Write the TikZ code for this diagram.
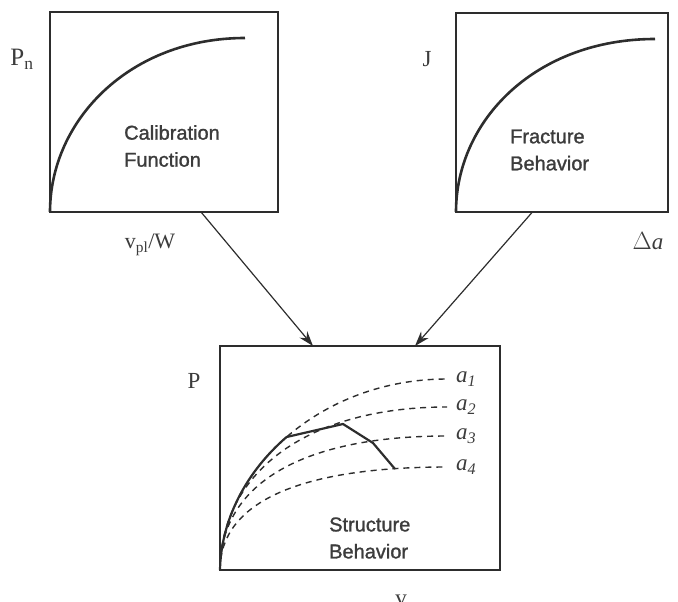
\documentclass[tikz,border=0pt]{standalone}
\usepackage{fontspec}
\setmainfont{Liberation Serif}
\newfontfamily\labsans[FakeBold=1.3]{Liberation Sans}
\usetikzlibrary{arrows.meta}
\definecolor{ink}{RGB}{45,45,45}
\definecolor{txt}{RGB}{60,60,60}
\tikzset{
  plotbox/.style={draw=ink, line width=1.3pt, inner sep=0pt, outer sep=0pt, rectangle},
  curve/.style={draw=ink, line width=2.6pt},
  dcurve/.style={draw=ink, line width=1.4pt, dash pattern=on 6pt off 5pt},
  arr/.style={draw=ink, line width=1.2pt, -{Stealth[length=15pt, width=10pt]}},
  title/.style={font=\labsans\fontsize{20}{27}\selectfont, text=txt, align=left, anchor=west, inner sep=0pt},
  axl/.style={font=\fontsize{23}{26}\selectfont, text=txt, inner sep=0pt},
}
\begin{document}
\begin{tikzpicture}[x=1pt, y=-1pt]
\useasboundingbox (0,0) rectangle (678,602);
% boxes
\node[plotbox, minimum width=228pt, minimum height=200pt] (cal) at (164,112) {};
\node[plotbox, minimum width=212pt, minimum height=199pt] (frac) at (562,112.5) {};
\node[plotbox, minimum width=280pt, minimum height=224pt] (str) at (360,458) {};
% curves in the upper boxes
\draw[curve] (cal.south west) .. controls (50,120) and (130,38) .. (245,38);
\draw[curve] (frac.south west) .. controls (456,120) and (536,39) .. (655,39);
% texts
\node[title] (caltxt) at (124,146) {Calibration\\Function};
\node[title] (fractxt) at (510,150) {Fracture\\Behavior};
\node[title] (strtxt) at (329,538) {Structure\\Behavior};
% axis labels
\node[axl, font=\fontsize{25}{28}\selectfont] (pn) at (22,59) {P\textsubscript{n}};
\node[axl, font=\fontsize{22}{26}\selectfont] (vpl) at (150,245) {v\textsubscript{pl}/W};
\node[axl] (jl) at (427,59) {J};
\node[axl] (da) at (648,241) {$\Delta$\textit{a}};
\node[axl] (pl) at (194,381) {P};
\node[axl] (vl) at (401,600) {v};
% arrows
\coordinate (a1s) at (201,212);
\coordinate (a1e) at (313,346);
\coordinate (a2s) at (532,212.5);
\coordinate (a2e) at (415,346);
\draw[arr] (a1s) -- (a1e);
\draw[arr] (a2s) -- (a2e);
% dashed curves
\coordinate (o) at (220,570);
\draw[dcurve] (o) .. controls (222,470) and (320,379) .. (447,379);
\draw[dcurve] (o) .. controls (221,470) and (310,407) .. (447,407);
\draw[dcurve] (o) .. controls (220,482) and (305,436) .. (447,436);
\draw[dcurve] (o) .. controls (220,502) and (300,467) .. (447,467);
% labels a_i
\node[axl, anchor=west] (a1) at (456,379) {\textit{a}\textsubscript{\textit{1}}};
\node[axl, anchor=west] (a2) at (456,407) {\textit{a}\textsubscript{\textit{2}}};
\node[axl, anchor=west] (a3) at (456,436) {\textit{a}\textsubscript{\textit{3}}};
\node[axl, anchor=west] (a4) at (456,467) {\textit{a}\textsubscript{\textit{4}}};
% structure curve
\draw[curve, line width=2.2pt, line join=round] (o) .. controls (221,520) and (246,472) .. (286.6,437) -- (343,424) -- (373,443) -- (395,469);
\end{tikzpicture}
\end{document}
